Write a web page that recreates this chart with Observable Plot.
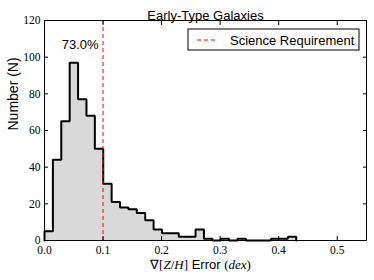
<!DOCTYPE html>
<html><head><meta charset="utf-8">
<script src="https://cdn.jsdelivr.net/npm/d3@7"></script>
<script src="https://cdn.jsdelivr.net/npm/@observablehq/plot@0.6"></script>
<style>body{margin:0;background:#fff}svg{overflow:visible}</style>
</head><body><div id="chart"></div>
<script>
// ---- data ----
const binStart = 0.0;
const binWidth = 0.43 / 30;
const counts = [5,44,65,97,77,68,50,31,21,18,17,15,11,6,4,4,2,2,6,1,0,1,0,1,0,0,0,1,1,2];
const xTicks = [0, 0.1, 0.2, 0.3, 0.4, 0.5];
const yTicks = [0, 20, 40, 60, 80, 100, 120];
const requirement = [0.1];
const annotations = [{x: 0.061, y: 107, text: "73.0%"}];
const title = "Early-Type Galaxies";
const legendLabel = "Science Requirement";
const yLabel = "Number (N)";
const xLabelParts = [
  {t: "\u2207[", f: "serif", i: false},
  {t: "Z", f: "serif", i: true},
  {t: "/", f: "serif", i: false},
  {t: "H", f: "serif", i: true},
  {t: "]", f: "serif", i: false},
  {t: " Error ", f: "sans", i: false},
  {t: "(", f: "serif", i: false},
  {t: "dex", f: "serif", i: true},
  {t: ")", f: "serif", i: false}
];

const steps = [{x: binStart, y: 0},
  ...counts.map((c, i) => ({x: binStart + i * binWidth, y: c})),
  {x: binStart + counts.length * binWidth, y: 0}];

const SERIF = "'Liberation Serif', 'Times New Roman', serif";
const SANS = "'Liberation Sans', Arial, sans-serif";
const W = 374, H = 280, mL = 44, mR = 8, mT = 20, mB = 40;

const svg = Plot.plot({
  width: W, height: H,
  marginLeft: mL, marginRight: mR, marginTop: mT, marginBottom: mB,
  x: {domain: [0, 0.55]},
  y: {domain: [0, 120]},
  style: {fontFamily: SANS, fontSize: "13px", background: "white", color: "black"},
  marks: [
    Plot.areaY(steps, {x: "x", y: "y", curve: "step-after", fill: "#d9d9d9"}),
    Plot.line(steps, {x: "x", y: "y", curve: "step-after", stroke: "black", strokeWidth: 2, strokeLinejoin: "miter"}),
    Plot.ruleX(requirement, {stroke: "red", strokeDasharray: "4,3", strokeWidth: 1}),
    Plot.frame({stroke: "black", strokeWidth: 1}),
    Plot.axisX({anchor: "bottom", ticks: xTicks, tickFormat: d => d.toFixed(1), tickSize: -4, tickPadding: 9.5, fontFamily: SERIF, fontSize: 11.5, label: null}),
    Plot.axisX({anchor: "top", ticks: xTicks, tickFormat: () => "", tickSize: -4, label: null}),
    Plot.axisY({anchor: "left", ticks: yTicks, tickFormat: d => String(d), tickSize: -4, tickPadding: 8, fontFamily: SERIF, fontSize: 11.5, label: null}),
    Plot.axisY({anchor: "right", ticks: yTicks, tickFormat: () => "", tickSize: -4, label: null}),
    Plot.text(annotations, {x: "x", y: "y", text: "text", fontSize: 13, fill: "black"}),
    Plot.text([title], {frameAnchor: "top", dy: -1, lineAnchor: "bottom", fontSize: 13, fill: "black"}),
    Plot.text([yLabel], {frameAnchor: "left", dx: -31, rotate: -90, fontSize: 14, fill: "black"}),
    Plot.text(["XLABEL"], {frameAnchor: "bottom", dx: -5, dy: 28, fontSize: 13, fill: "black"})
  ]
});

// mixed-font x label
const xl = d3.select(svg).selectAll("text").filter(function() { return this.textContent === "XLABEL"; });
xl.text(null);
for (const p of xLabelParts) {
  xl.append("tspan").text(p.t)
    .attr("font-family", p.f === "serif" ? SERIF : SANS)
    .attr("font-size", 13)
    .attr("font-style", p.i ? "italic" : "normal");
}

// legend box
const lg = d3.select(svg).append("g");
const frameRight = W - mR, frameTop = mT;
lg.append("rect").attr("x", frameRight - 178).attr("y", frameTop + 9).attr("width", 171).attr("height", 21)
  .attr("fill", "white").attr("stroke", "black").attr("stroke-width", 1);
lg.append("line").attr("x1", frameRight - 169).attr("x2", frameRight - 148).attr("y1", frameTop + 20).attr("y2", frameTop + 20)
  .attr("stroke", "red").attr("stroke-width", 1).attr("stroke-dasharray", "4,3");
lg.append("text").attr("x", frameRight - 136).attr("y", frameTop + 20).attr("dy", "0.35em")
  .attr("text-anchor", "start")
  .attr("font-family", SANS).attr("font-size", 13).attr("fill", "black").text(legendLabel);

document.getElementById("chart").append(svg);
</script></body></html>
